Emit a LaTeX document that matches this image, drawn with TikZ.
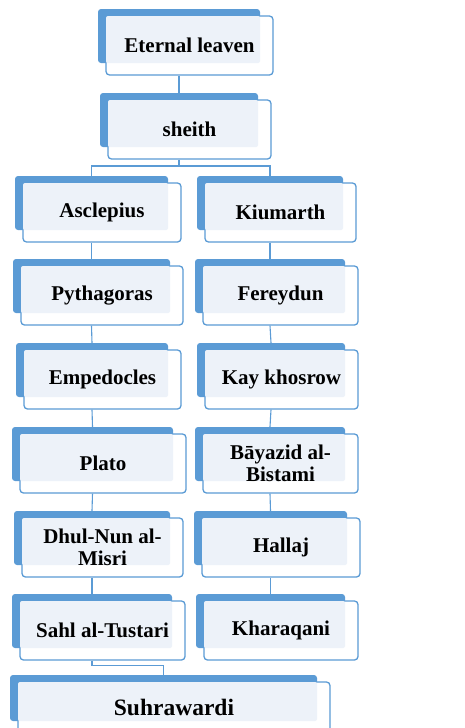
\documentclass[tikz,border=0pt]{standalone}
\usepackage{fontspec}
\setmainfont{Liberation Serif}
\definecolor{boxblue}{HTML}{5B9BD5}
\definecolor{lightfill}{HTML}{EDF2F9}
\tikzset{
  backbox/.style={fill=boxblue, draw=none, rounded corners=3pt, inner sep=0pt},
  framebox/.style={fill=white, draw=boxblue, line width=1.3pt, rounded corners=3.5pt, inner sep=0pt},
  innerfill/.style={fill=lightfill, draw=none, rounded corners=2pt, inner sep=0pt},
  label/.style={font=\bfseries\fontsize{21}{22}\selectfont, align=center, inner sep=0pt, text=black},
  biglabel/.style={font=\bfseries\fontsize{23.5}{25}\selectfont, align=center, inner sep=0pt, text=black},
  link/.style={draw=boxblue, line width=1.1pt}
}
% #1 name, #2 x1, #3 y1, #4 x2, #5 y2, #6 label style, #7 text
\newcommand\famnode[7]{%
  \pgfmathsetmacro\bw{#4-#2}\pgfmathsetmacro\bh{#5-#3}%
  \pgfmathsetmacro\cx{(#2+#4)/2}\pgfmathsetmacro\cy{(#3+#5)/2}%
  \node[backbox, minimum width=\bw pt, minimum height=\bh pt] (#1b) at (\cx,\cy) {};
  \node[framebox, minimum width=\bw pt+5pt, minimum height=\bh pt+5pt] (#1f) at (\cx+10.5,\cy+9.5) {};
  \node[innerfill, minimum width=\bw pt-8pt, minimum height=\bh pt-7pt] (#1i) at (\cx+4,\cy+3.5) {};
  \node[#6] (#1) at (\cx+10.5,\cy+9.5) {#7};
}
\begin{document}
\begin{tikzpicture}[x=1pt,y=-1pt]
\useasboundingbox (0,0) rectangle (464,728);
\famnode{ete}{98}{9}{260}{63}{label}{Eternal leaven}
\famnode{she}{100}{93}{258}{147}{label}{sheith}
\famnode{asc}{15}{176}{168}{230}{label}{Asclepius}
\famnode{kiu}{197}{176}{343}{230}{label}{Kiumarth}
\famnode{pyt}{13}{259}{170}{313}{label}{Pythagoras}
\famnode{fer}{195}{259}{345}{313}{label}{Fereydun}
\famnode{emp}{16}{343}{168}{397}{label}{Empedocles}
\famnode{kay}{197}{343}{345}{397}{label}{Kay khosrow}
\famnode{pla}{12}{427}{173}{481}{label}{Plato}
\famnode{bay}{195}{427}{345}{481}{label}{Bāyazid al-\\Bistami}
\famnode{dhu}{14}{511}{170}{565}{label}{Dhul-Nun al-\\Misri}
\famnode{hal}{194}{511}{347}{565}{label}{Hallaj}
\famnode{sah}{12}{594}{172}{648}{label}{Sahl al-Tustari}
\famnode{kha}{196}{594}{345}{648}{label}{Kharaqani}
\famnode{suh}{10}{675}{317}{721}{biglabel}{Suhrawardi}
% connectors
\draw[link] (eteb.south |- etef.south) -- (sheb.north);
\coordinate (fork) at (179,166);
\draw[link] (sheb.south |- shef.south) -- (fork);
\draw[link] (fork) -| (ascb.north);
\draw[link] (fork) -| (kiub.north);
\draw[link] (ascb.south |- ascf.south) -- (pytb.north);
\draw[link] (pytb.south |- pytf.south) -- (empb.north);
\draw[link] (empb.south |- empf.south) -- (plab.north);
\draw[link] (plab.south |- plaf.south) -- (dhub.north);
\draw[link] (dhub.south |- dhuf.south) -- (sahb.north);
\draw[link] (kiub.south |- kiuf.south) -- (ferb.north);
\draw[link] (ferb.south |- ferf.south) -- (kayb.north);
\draw[link] (kayb.south |- kayf.south) -- (bayb.north);
\draw[link] (bayb.south |- bayf.south) -- (halb.north);
\draw[link] (halb.south |- half.south) -- (khab.north);
\draw[link] (sahb.south |- sahf.south) -- ++(0,5) -| (suhb.north);
\end{tikzpicture}
\end{document}
